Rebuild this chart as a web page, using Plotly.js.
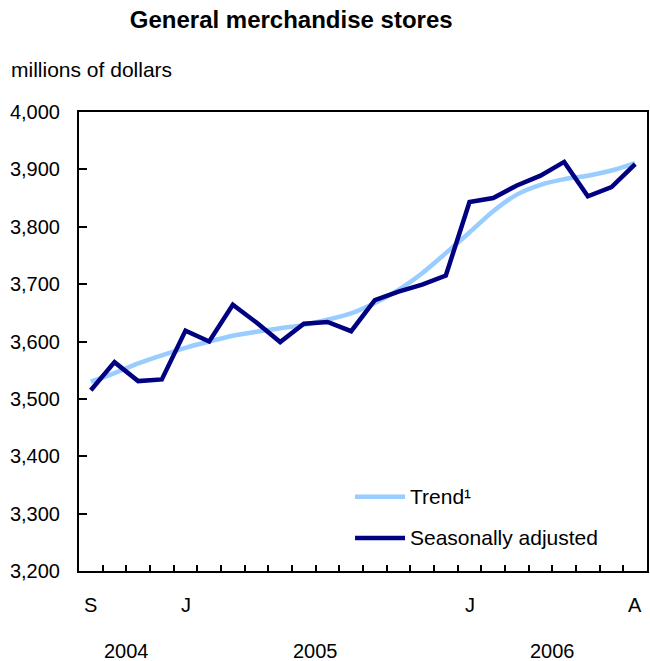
<!DOCTYPE html>
<html>
<head>
<meta charset="utf-8">
<script src="https://cdn.plot.ly/plotly-3.0.1.min.js"></script>
<style>html,body{margin:0;padding:0;background:#fff;}#chart{width:650px;height:661px;}</style>
</head>
<body>
<div id="chart"></div>
<script>
// Sep 2004 .. Aug 2006, monthly
const months = ["2004-09","2004-10","2004-11","2004-12","2005-01","2005-02","2005-03","2005-04","2005-05","2005-06","2005-07","2005-08","2005-09","2005-10","2005-11","2005-12","2006-01","2006-02","2006-03","2006-04","2006-05","2006-06","2006-07","2006-08"];
const trend = [3530,3545,3562,3576,3589,3600,3610,3617,3623,3629,3638,3649,3667,3690,3719,3754,3790,3827,3856,3873,3883,3889,3898,3911];
const seasAdj = [3515,3564,3531,3534,3619,3600,3664,3633,3599,3631,3634,3618,3672,3687,3699,3715,3843,3850,3872,3889,3913,3853,3869,3909];
const seriesNames = ["Trend¹", "Seasonally adjusted"];
const monthLabels = [{i:0,t:"S"},{i:4,t:"J"},{i:16,t:"J"},{i:23,t:"A"}];
const yearLabels = [{c:1.5,t:"2004"},{c:9.5,t:"2005"},{c:19.5,t:"2006"}];
const yTicks = [3200,3300,3400,3500,3600,3700,3800,3900,4000];

const idx = months.map((m,i)=>i);
const FONT = "Liberation Sans, Arial, sans-serif";
const colors = ["#99CCFF", "#000080"];

const traces = [
  {x: idx, y: trend, name: seriesNames[0], type: "scatter", mode: "lines", showlegend: false,
   line: {color: colors[0], width: 4.5, shape: "spline", smoothing: 0.8}},
  {x: idx, y: seasAdj, name: seriesNames[1], type: "scatter", mode: "lines", showlegend: false,
   line: {color: colors[1], width: 4.5}}
];

const annotations = [];
monthLabels.forEach(m => annotations.push({x: m.i, y: -0.074, xref: "x", yref: "paper", text: m.t, showarrow: false, xanchor: "center", yanchor: "middle", font: {family: FONT, size: 20, color: "#000"}}));
yearLabels.forEach(m => annotations.push({x: m.c, y: -0.175, xref: "x", yref: "paper", text: m.t, showarrow: false, xanchor: "center", yanchor: "middle", font: {family: FONT, size: 20, color: "#000"}}));
annotations.push({x: -0.123, y: 1.093, xref: "paper", yref: "paper", text: "millions of dollars", showarrow: false, xanchor: "left", yanchor: "middle", font: {family: FONT, size: 21, color: "#000"}});

// legend (drawn manually to match sample length and spacing)
const legY = [0.1616, 0.072];
const shapes = [];
seriesNames.forEach((n, k) => {
  shapes.push({type: "line", xref: "paper", yref: "paper", x0: 0.486, x1: 0.574, y0: legY[k], y1: legY[k], line: {color: colors[k], width: 4.5}});
  annotations.push({x: 0.579, y: legY[k], xref: "paper", yref: "paper", text: n, showarrow: false, xanchor: "left", yanchor: "middle", font: {family: FONT, size: 21, color: "#000"}});
});

const layout = {
  width: 650, height: 661,
  margin: {l: 79, r: 3, t: 112, b: 90},
  paper_bgcolor: "#fff", plot_bgcolor: "#fff",
  title: {text: "<b>General merchandise stores</b>", x: 0.448, xanchor: "center", xref: "container", y: 0.97, yref: "container", yanchor: "middle", font: {family: FONT, size: 24, color: "#000"}},
  xaxis: {range: [-0.5, 23.5], tickmode: "linear", tick0: 0.5, dtick: 1, ticks: "inside", ticklen: 6, tickwidth: 2, tickcolor: "#000",
          showticklabels: false, showgrid: false, zeroline: false, showline: true, linecolor: "#000", linewidth: 2, mirror: true, fixedrange: true},
  yaxis: {range: [3200, 4000], tickvals: yTicks, ticktext: yTicks.map(v => v.toLocaleString("en-US")), ticks: "inside", ticklen: 8, tickwidth: 2, tickcolor: "#000",
          ticklabelstandoff: 13,
          showgrid: false, zeroline: false, showline: true, linecolor: "#000", linewidth: 2, mirror: true,
          tickfont: {family: FONT, size: 20, color: "#000"}, fixedrange: true},
  showlegend: false,
  shapes: shapes,
  annotations: annotations
};

Plotly.newPlot("chart", traces, layout, {displayModeBar: false, staticPlot: true});
</script>
</body>
</html>
